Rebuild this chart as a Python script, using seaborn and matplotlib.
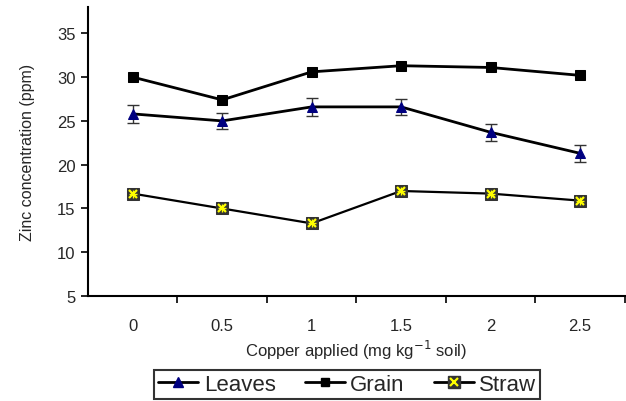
import numpy as np
import pandas as pd
import matplotlib.pyplot as plt
import seaborn as sns
from matplotlib.lines import Line2D

#### Data
copper = ['0', '0.5', '1', '1.5', '2', '2.5']
leaves = [25.8, 25.0, 26.6, 26.6, 23.7, 21.3]
leaves_err = [1.0, 0.9, 1.0, 0.9, 0.95, 0.95]
grain = [30.0, 27.4, 30.6, 31.3, 31.1, 30.2]
straw = [16.7, 15.0, 13.3, 17.0, 16.7, 15.9]
yticks = [5, 10, 15, 20, 25, 30, 35]

sns.set_theme(style='white')
plt.rcParams['font.family'] = ['Liberation Sans', 'DejaVu Sans']

pos = np.arange(len(copper))
df = pd.DataFrame({'pos': pos, 'Leaves': leaves, 'Grain': grain, 'Straw': straw})

fig = plt.figure(figsize=(6.26, 4.02), dpi=100)
ax = fig.add_axes([0.1406, 0.261, 0.8574, 0.719])

#### Leaves with error bars
ax.errorbar(pos, leaves, yerr=leaves_err, fmt='none', ecolor='#333333',
            elinewidth=1, capsize=4, capthick=1, zorder=2)
sns.lineplot(data=df, x='pos', y='Leaves', ax=ax, color='black', lw=2,
             marker='^', markersize=7, markerfacecolor='#000080',
             markeredgecolor='#000080', zorder=3)
#### Grain
sns.lineplot(data=df, x='pos', y='Grain', ax=ax, color='black', lw=2,
             marker='s', markersize=7, markerfacecolor='black',
             markeredgecolor='black', zorder=3)
#### Straw: dark square with yellow star on top
sns.lineplot(data=df, x='pos', y='Straw', ax=ax, color='black', lw=1.6,
             marker='s', markersize=8, markerfacecolor='#333333',
             markeredgecolor='#333333', zorder=3)
ax.plot(pos, straw, ls='none', marker='x', markersize=6, mew=1.6,
        color='#ffff00', zorder=4)
ax.plot(pos, straw, ls='none', marker='+', markersize=6, mew=1.0,
        color='#ffff00', zorder=4)

ax.set_xlim(-0.5, len(copper) - 0.5)
ax.set_ylim(5, 38)
ax.set_yticks(yticks)
ax.set_yticklabels([str(t) for t in yticks], fontsize=12)
ax.set_xticks(pos)
ax.set_xticklabels(copper, fontsize=12)
ax.set_xticks(pos + 0.5, minor=True)
ax.tick_params(axis='x', which='major', length=0, pad=16)
ax.tick_params(axis='x', which='minor', length=5, width=1.2, direction='out', color='black', bottom=True)
ax.tick_params(axis='y', which='major', length=5, width=1.2, direction='out', color='black', left=True, pad=4)

for s in ['top', 'right']:
    ax.spines[s].set_visible(False)
for s in ['left', 'bottom']:
    ax.spines[s].set_color('black')
    ax.spines[s].set_linewidth(1.5)

ax.set_xlabel('Copper applied (mg kg$^{-1}$ soil)', fontsize=12, labelpad=3)
ax.set_ylabel('Zinc concentration (ppm)', fontsize=11.5, labelpad=16)

#### Legend
h_leaves = Line2D([], [], color='black', lw=2, marker='^', markersize=7,
                  markerfacecolor='#000080', markeredgecolor='#000080')
h_grain = Line2D([], [], color='black', lw=2, marker='s', markersize=6,
                 markerfacecolor='black', markeredgecolor='black')
h_straw_sq = Line2D([], [], color='black', lw=2, marker='s', markersize=8,
                    markerfacecolor='#333333', markeredgecolor='#333333')
h_straw_x = Line2D([], [], ls='none', marker='x', markersize=6, mew=1.6, color='#ffff00')
leg = fig.legend([h_leaves, h_grain, (h_straw_sq, h_straw_x)], ['Leaves', 'Grain', 'Straw'],
                 loc='center', bbox_to_anchor=(0.555, 0.041), ncol=3, fontsize=16,
                 frameon=True, fancybox=False, edgecolor='black', handlelength=1.8,
                 handletextpad=0.25, columnspacing=1.3, borderpad=0.18,
                 borderaxespad=0)
leg.get_frame().set_linewidth(1.5)

fig.savefig('out.png', dpi=100)
